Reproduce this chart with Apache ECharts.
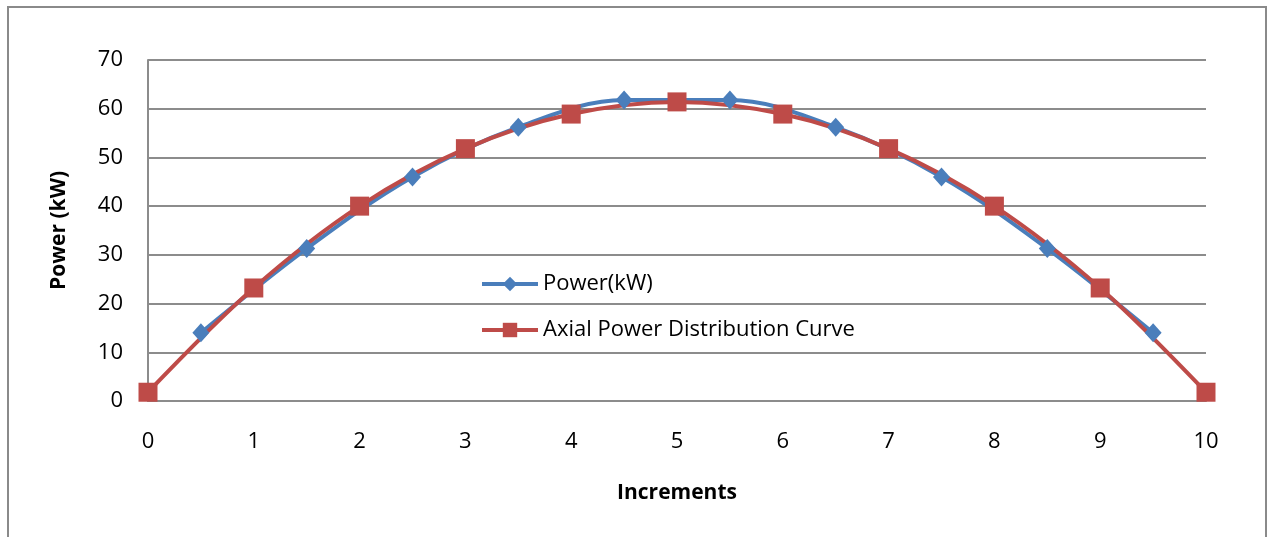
<!DOCTYPE html>
<html>
<head>
<meta charset="utf-8">
<script src="https://cdn.jsdelivr.net/npm/echarts@6/dist/echarts.min.js"></script>
<style>
  html, body { margin: 0; padding: 0; background: #fff; }
  #chart { width: 1271px; height: 537px; }
</style>
</head>
<body>
<div id="chart"></div>
<script>
// power samples at half increments (blue)
var powerX = [0.5, 1.5, 2.5, 3.5, 4.5, 5.5, 6.5, 7.5, 8.5, 9.5];
var powerY = [14, 31.3, 46, 56.2, 61.8, 61.8, 56.2, 46, 31.3, 14];

// axial distribution curve at whole increments (red)
var axialX = [0, 1, 2, 3, 4, 5, 6, 7, 8, 9, 10];
var axialY = [1.8, 23.2, 40, 51.8, 58.9, 61.4, 58.9, 51.8, 40, 23.2, 1.8];

var seriesNames = ['Power(kW)', 'Axial Power Distribution Curve'];

function pairs(xs, ys) {
	return xs.map(function (x, i) { return [x, ys[i]]; });
}

var font = 'Open Sans, Liberation Sans, sans-serif';

var option = {
	animation: false,
	backgroundColor: '#fff',
	graphic: [{
		type: 'rect',
		shape: { x: 8, y: 7, width: 1258, height: 560 },
		style: { fill: 'none', stroke: '#8a8a8a', lineWidth: 2 },
		silent: true
	}],
	grid: { left: 148, right: 65, top: 60, bottom: 136 },
	legend: {
		orient: 'vertical',
		left: 475,
		top: 268,
		itemWidth: 56,
		itemHeight: 18,
		itemGap: 24,
		lineStyle: { width: 4 },
		textStyle: { fontFamily: font, fontSize: 22, color: '#000' },
		data: seriesNames
	},
	xAxis: {
		type: 'value',
		min: 0, max: 10, interval: 1,
		name: 'Increments',
		nameLocation: 'middle',
		nameGap: 82,
		nameTextStyle: { fontFamily: font, fontSize: 21, fontWeight: 'bold', color: '#000' },
		axisLine: { show: true, lineStyle: { color: '#8c8c8c', width: 2 } },
		axisTick: { show: false },
		splitLine: { show: false },
		axisLabel: { fontFamily: font, fontSize: 22, color: '#000', margin: 30 }
	},
	yAxis: {
		type: 'value',
		min: 0, max: 70, interval: 10,
		name: 'Power (kW)',
		nameLocation: 'middle',
		nameGap: 78,
		nameTextStyle: { fontFamily: font, fontSize: 21, fontWeight: 'bold', color: '#000' },
		axisLine: { show: true, lineStyle: { color: '#8c8c8c', width: 2 } },
		axisTick: { show: false },
		splitLine: { show: true, lineStyle: { color: '#8c8c8c', width: 2 } },
		axisLabel: { fontFamily: font, fontSize: 22, color: '#000', margin: 25 }
	},
	series: [{
		name: seriesNames[0],
		type: 'line',
		smooth: 0.35,
		symbol: 'diamond',
		symbolSize: [17, 19],
		itemStyle: { color: '#4a7ebb' },
		lineStyle: { color: '#4a7ebb', width: 4 },
		data: pairs(powerX, powerY)
	}, {
		name: seriesNames[1],
		type: 'line',
		smooth: 0.35,
		symbol: 'rect',
		symbolSize: 19,
		itemStyle: { color: '#be4b48' },
		lineStyle: { color: '#be4b48', width: 4 },
		data: pairs(axialX, axialY)
	}]
};

var chart = echarts.init(document.getElementById('chart'));
chart.setOption(option);
</script>
</body>
</html>
